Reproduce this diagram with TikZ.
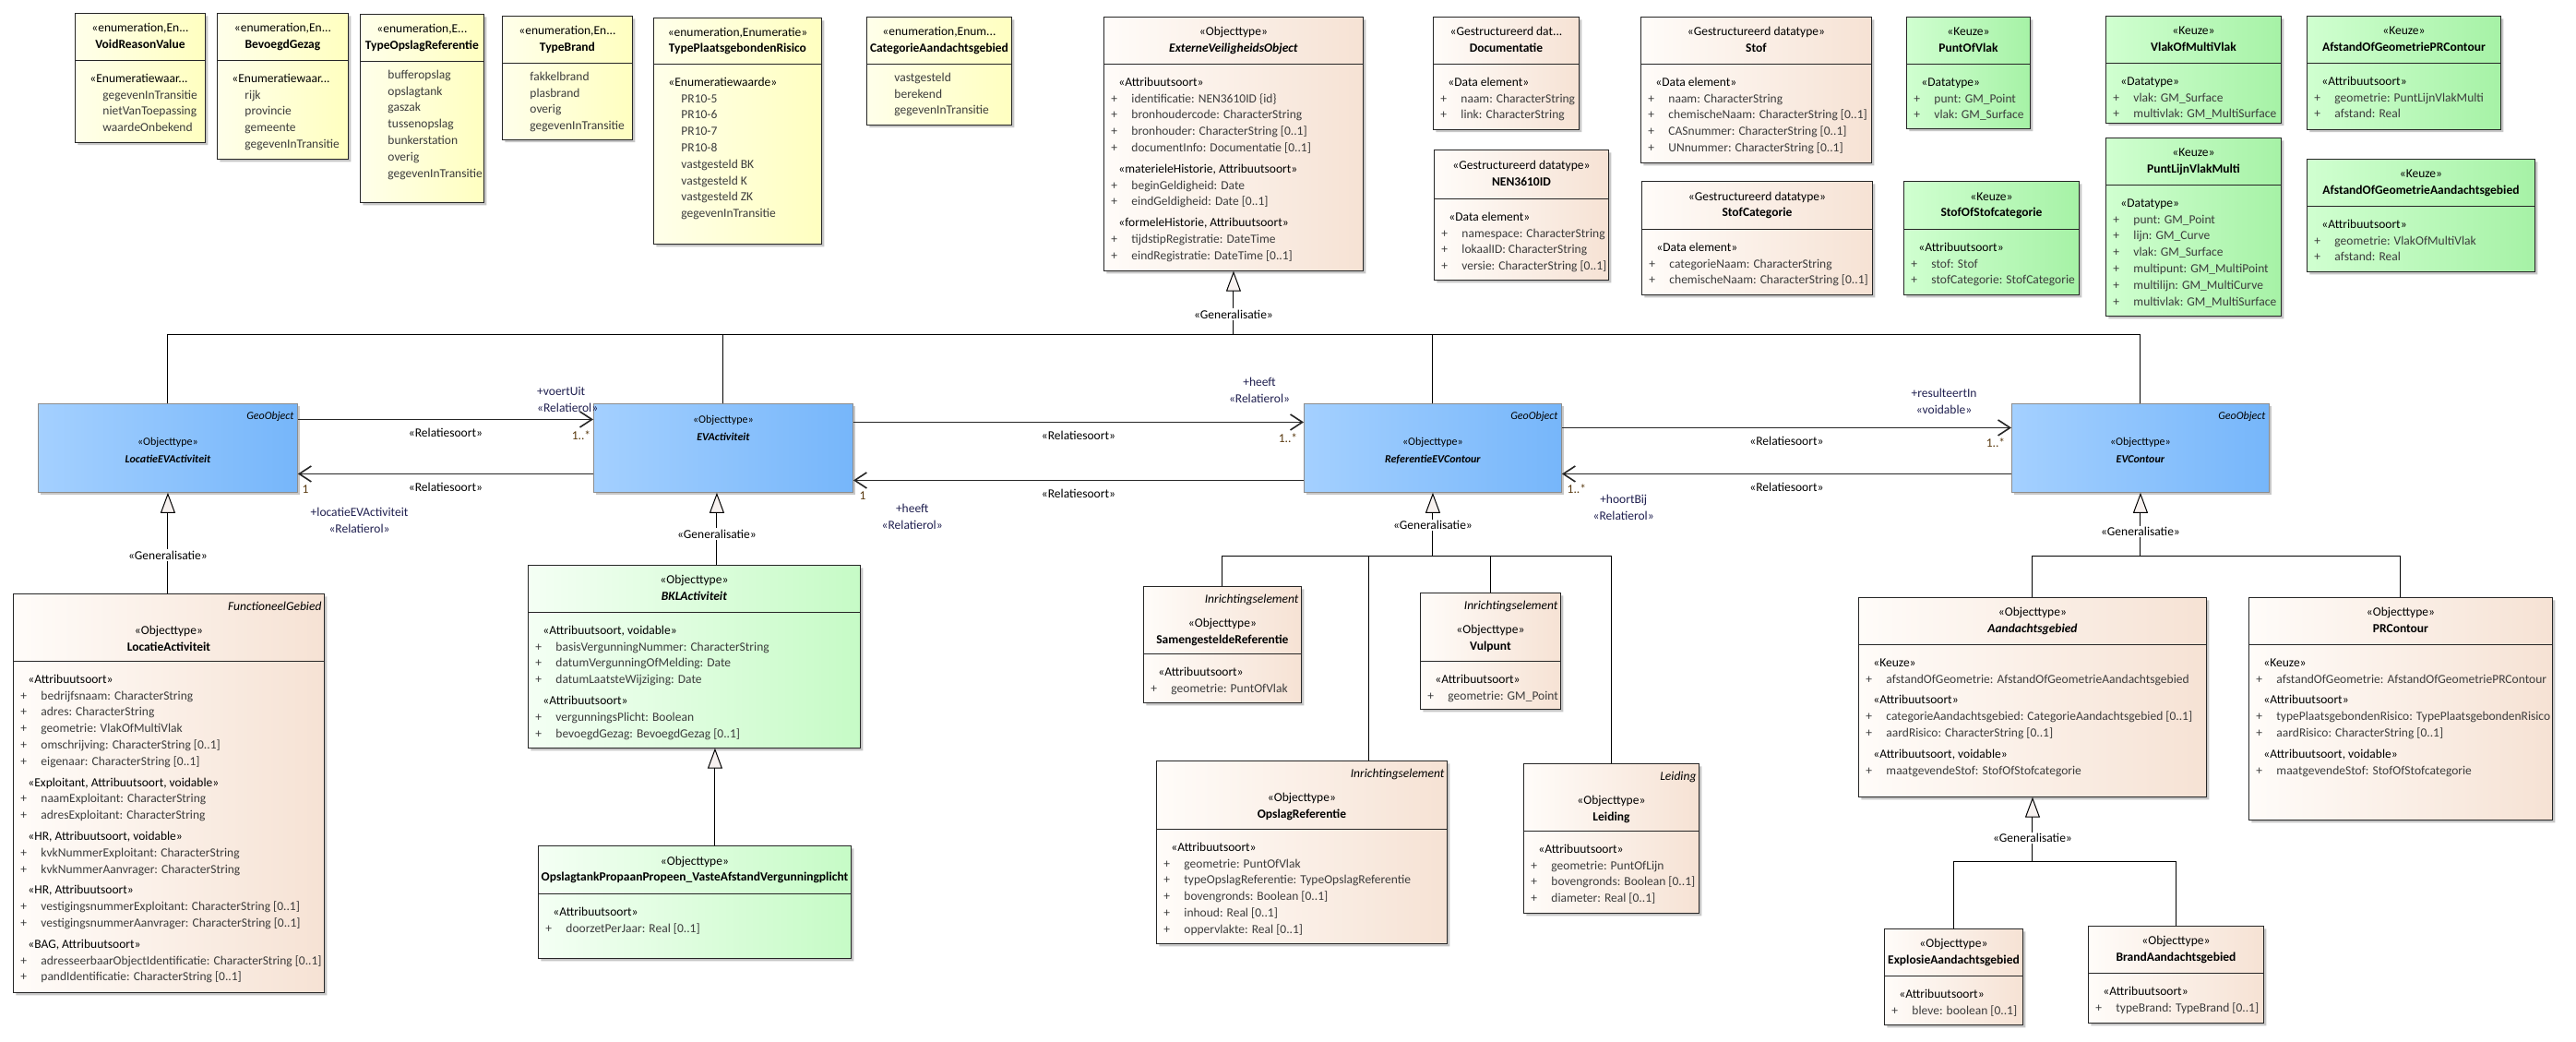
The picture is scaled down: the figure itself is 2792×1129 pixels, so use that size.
\documentclass[tikz,border=0pt]{standalone}
\usepackage{fontspec}
\setmainfont{Carlito}
\usepackage{xcolor}
\definecolor{enumLeft}{HTML}{FFFFEA}
\definecolor{enumRight}{HTML}{FFFFC0}
\definecolor{objLeft}{HTML}{FFFCF9}
\definecolor{objRight}{HTML}{F6E2D4}
\definecolor{keuzeLeft}{HTML}{D0FFD0}
\definecolor{keuzeRight}{HTML}{A6F2A6}
\definecolor{bklLeft}{HTML}{F4FFF4}
\definecolor{bklRight}{HTML}{C6FBC6}
\definecolor{geoLeft}{HTML}{A4D0FF}
\definecolor{geoRight}{HTML}{76B6FA}
\definecolor{genFill}{HTML}{F7F1EF}
\definecolor{attText}{HTML}{3C3C3C}
\definecolor{roleText}{HTML}{202050}
\definecolor{multText}{HTML}{5A3A10}
\usepackage{tikz}
\usetikzlibrary{arrows.meta,shapes.multipart,shadows}

\newcommand{\boxfont}{\fontsize{13.5}{17.8}\selectfont}
\newcommand{\geofont}{\fontsize{12}{18.5}\selectfont}
% header, body and lines of a class box
\newcommand{\umlhead}[4]{\parbox[c][#2][c]{#1}{\boxfont\centering\strut\mbox{#3}\\\mbox{#4}\strut}}
\newcommand{\umlheadx}[5]{\parbox[c][#2][t]{#1}{\boxfont\vspace*{5pt}\raggedleft\strut\textit{#3}\hspace*{3pt}\par
    \vspace{8.5pt}\centering\strut\mbox{#4}\\\mbox{#5}\strut\par}}
\newcommand{\umlbody}[3]{\parbox[c][#2][t]{#1}{\boxfont\vspace*{6pt}#3}}
\newcommand{\umlgrp}[1]{\vspace{5pt}\mbox{\hspace*{16pt}\strut#1}\par}
\newcommand{\umlatt}[1]{\mbox{\color{attText}\hspace*{8pt}\makebox[22pt][l]{+}\strut#1}\par}
\newcommand{\umlval}[1]{\mbox{\color{attText}\hspace*{30pt}\strut#1}\par}
\newcommand{\umlgeo}[4]{\parbox[c][96pt][t]{#1}{\geofont\vspace*{4.5pt}\raggedleft\strut\textit{#2}\hspace*{4pt}\par
    \vspace{9.5pt}\centering\strut#3\\\textbf{\textit{#4}}\strut\par}}
\newcommand{\umlgeoplain}[3]{\parbox[c][96pt][t]{#1}{\geofont\vspace*{8.5pt}\centering\strut#2\\\textbf{\textit{#3}}\strut\par}}

\tikzset{%
  classBox/.style={%
    rectangle split,
    rectangle split parts=2,
    draw=black!85,
    line width=0.9pt,
    inner sep=0pt,
    anchor=north west,
    drop shadow={shadow xshift=3pt, shadow yshift=-3pt, fill=black!22, opacity=1}
  },
  enumBox/.style={classBox, left color=enumLeft, right color=enumRight},
  objBox/.style={classBox, left color=objLeft, right color=objRight},
  keuzeBox/.style={classBox, left color=keuzeLeft, right color=keuzeRight},
  bklBox/.style={classBox, left color=bklLeft, right color=bklRight},
  geoBox/.style={%
    rectangle,
    draw=black!45,
    line width=0.9pt,
    inner sep=0pt,
    anchor=north west,
    left color=geoLeft,
    right color=geoRight,
    drop shadow={shadow xshift=3pt, shadow yshift=-3pt, fill=black!22, opacity=1}
  },
  assocLine/.style={%
    -{Straight Barb[length=13pt,width=17pt]},
    line width=1.6pt,
    draw=black!85
  },
  genArrow/.style={%
    -{Triangle[length=22pt,width=16pt,fill=genFill]},
    line width=1pt
  },
  genLink/.style={line width=1pt},
  genLabel/.style={fill=white, inner sep=1.5pt, font=\boxfont},
  relLabel/.style={font=\boxfont, inner sep=1pt},
  roleLabel/.style={font=\fontsize{13.5}{18}\selectfont, text=roleText, align=center, inner sep=0pt},
  multLabel/.style={font=\boxfont, text=multText, inner sep=0pt}
}

\begin{document}
\begin{tikzpicture}[x=1pt, y=-1pt]
  \path[use as bounding box, fill=white] (0,0) rectangle (2792,1129);

  % Enumerations
  \node[enumBox] (voidReason) at (81,14) {\umlhead{141pt}{50pt}{«enumeration,En...}{\textbf{VoidReasonValue}}\nodepart{two}\umlbody{141pt}{88pt}{%
      \umlgrp{«Enumeratiewaar...}
      \umlval{gegevenInTransitie}
      \umlval{nietVanToepassing}
      \umlval{waardeOnbekend}}};
  \node[enumBox] (bevoegdGezag) at (235,14) {\umlhead{142pt}{50pt}{«enumeration,En...}{\textbf{BevoegdGezag}}\nodepart{two}\umlbody{142pt}{106pt}{%
      \umlgrp{«Enumeratiewaar...}
      \umlval{rijk}
      \umlval{provincie}
      \umlval{gemeente}
      \umlval{gegevenInTransitie}}};
  \node[enumBox] (typeOpslag) at (390,15) {\umlhead{134pt}{50pt}{«enumeration,E...}{\textbf{TypeOpslagReferentie}}\nodepart{two}\umlbody{134pt}{152pt}{%
      \umlval{bufferopslag}
      \umlval{opslagtank}
      \umlval{gaszak}
      \umlval{tussenopslag}
      \umlval{bunkerstation}
      \umlval{overig}
      \umlval{gegevenInTransitie}}};
  \node[enumBox] (typeBrand) at (544,17) {\umlhead{141pt}{50pt}{«enumeration,En...}{\textbf{TypeBrand}}\nodepart{two}\umlbody{141pt}{82pt}{%
      \umlval{fakkelbrand}
      \umlval{plasbrand}
      \umlval{overig}
      \umlval{gegevenInTransitie}}};
  \node[enumBox] (typePR) at (708,19) {\umlhead{182pt}{49pt}{«enumeration,Enumeratie»}{\textbf{TypePlaatsgebondenRisico}}\nodepart{two}\umlbody{182pt}{194pt}{%
      \umlgrp{«Enumeratiewaarde»}
      \umlval{PR10-5}
      \umlval{PR10-6}
      \umlval{PR10-7}
      \umlval{PR10-8}
      \umlval{vastgesteld BK}
      \umlval{vastgesteld K}
      \umlval{vastgesteld ZK}
      \umlval{gegevenInTransitie}}};
  \node[enumBox] (categorieAandacht) at (939,18) {\umlhead{157pt}{50pt}{«enumeration,Enum...}{\textbf{CategorieAandachtsgebied}}\nodepart{two}\umlbody{157pt}{65pt}{%
      \umlval{vastgesteld}
      \umlval{berekend}
      \umlval{gegevenInTransitie}}};

  % Supertype and data types
  \node[objBox] (evObject) at (1196,18) {\umlhead{281pt}{50pt}{«Objecttype»}{\textbf{\textit{ExterneVeiligheidsObject}}}\nodepart{two}\umlbody{281pt}{223pt}{%
      \umlgrp{«Attribuutsoort»}
      \umlatt{identificatie: NEN3610ID \{id\}}
      \umlatt{bronhoudercode: CharacterString}
      \umlatt{bronhouder: CharacterString [0..1]}
      \umlatt{documentInfo: Documentatie [0..1]}
      \umlgrp{«materieleHistorie, Attribuutsoort»}
      \umlatt{beginGeldigheid: Date}
      \umlatt{eindGeldigheid: Date [0..1]}
      \umlgrp{«formeleHistorie, Attribuutsoort»}
      \umlatt{tijdstipRegistratie: DateTime}
      \umlatt{eindRegistratie: DateTime [0..1]}}};
  \node[objBox] (documentatie) at (1553,18) {\umlhead{158pt}{50pt}{«Gestructureerd dat...}{\textbf{Documentatie}}\nodepart{two}\umlbody{158pt}{70pt}{%
      \umlgrp{«Data element»}
      \umlatt{naam: CharacterString}
      \umlatt{link: CharacterString}}};
  \node[objBox] (nen3610id) at (1554,162) {\umlhead{189pt}{52pt}{«Gestructureerd datatype»}{\textbf{NEN3610ID}}\nodepart{two}\umlbody{189pt}{87pt}{%
      \umlgrp{«Data element»}
      \umlatt{namespace: CharacterString}
      \umlatt{lokaalID: CharacterString}
      \umlatt{versie: CharacterString [0..1]}}};
  \node[objBox] (stof) at (1778,18) {\umlhead{250pt}{50pt}{«Gestructureerd datatype»}{\textbf{Stof}}\nodepart{two}\umlbody{250pt}{106pt}{%
      \umlgrp{«Data element»}
      \umlatt{naam: CharacterString}
      \umlatt{chemischeNaam: CharacterString [0..1]}
      \umlatt{CASnummer: CharacterString [0..1]}
      \umlatt{UNnummer: CharacterString [0..1]}}};
  \node[objBox] (stofCategorie) at (1779,196) {\umlhead{250pt}{51pt}{«Gestructureerd datatype»}{\textbf{StofCategorie}}\nodepart{two}\umlbody{250pt}{70pt}{%
      \umlgrp{«Data element»}
      \umlatt{categorieNaam: CharacterString}
      \umlatt{chemischeNaam: CharacterString [0..1]}}};

  % Keuze types
  \node[keuzeBox] (puntOfVlak) at (2066,18) {\umlhead{134pt}{50pt}{«Keuze»}{\textbf{PuntOfVlak}}\nodepart{two}\umlbody{134pt}{69pt}{%
      \umlgrp{«Datatype»}
      \umlatt{punt: GM\_Point}
      \umlatt{vlak: GM\_Surface}}};
  \node[keuzeBox] (vlakOfMultiVlak) at (2282,17) {\umlhead{190pt}{50pt}{«Keuze»}{\textbf{VlakOfMultiVlak}}\nodepart{two}\umlbody{190pt}{64pt}{%
      \umlgrp{«Datatype»}
      \umlatt{vlak: GM\_Surface}
      \umlatt{multivlak: GM\_MultiSurface}}};
  \node[keuzeBox] (afstandPR) at (2500,17) {\umlhead{210pt}{50pt}{«Keuze»}{\textbf{AfstandOfGeometriePRContour}}\nodepart{two}\umlbody{210pt}{71pt}{%
      \umlgrp{«Attribuutsoort»}
      \umlatt{geometrie: PuntLijnVlakMulti}
      \umlatt{afstand: Real}}};
  \node[keuzeBox] (stofOfStofcat) at (2063,196) {\umlhead{190pt}{51pt}{«Keuze»}{\textbf{StofOfStofcategorie}}\nodepart{two}\umlbody{190pt}{70pt}{%
      \umlgrp{«Attribuutsoort»}
      \umlatt{stof: Stof}
      \umlatt{stofCategorie: StofCategorie}}};
  \node[keuzeBox] (puntLijnVlakMulti) at (2282,149) {\umlhead{190pt}{50pt}{«Keuze»}{\textbf{PuntLijnVlakMulti}}\nodepart{two}\umlbody{190pt}{141pt}{%
      \umlgrp{«Datatype»}
      \umlatt{punt: GM\_Point}
      \umlatt{lijn: GM\_Curve}
      \umlatt{vlak: GM\_Surface}
      \umlatt{multipunt: GM\_MultiPoint}
      \umlatt{multilijn: GM\_MultiCurve}
      \umlatt{multivlak: GM\_MultiSurface}}};
  \node[keuzeBox] (afstandAandacht) at (2500,172) {\umlhead{247pt}{50pt}{«Keuze»}{\textbf{AfstandOfGeometrieAandachtsgebied}}\nodepart{two}\umlbody{247pt}{70pt}{%
      \umlgrp{«Attribuutsoort»}
      \umlatt{geometrie: VlakOfMultiVlak}
      \umlatt{afstand: Real}}};

  % GeoObject row
  \node[geoBox] (locatieEV) at (41,437) {\umlgeo{281pt}{GeoObject}{«Objecttype»}{LocatieEVActiviteit}};
  \node[geoBox] (evAct) at (643,437) {\umlgeoplain{281pt}{«Objecttype»}{EVActiviteit}};
  \node[geoBox] (refEV) at (1413,437) {\umlgeo{279pt}{GeoObject}{«Objecttype»}{ReferentieEVContour}};
  \node[geoBox] (evContour) at (2180,437) {\umlgeo{279pt}{GeoObject}{«Objecttype»}{EVContour}};

  % Subtypes
  \node[objBox] (locatieAct) at (14,643) {\umlheadx{337pt}{72pt}{FunctioneelGebied}{«Objecttype»}{\textbf{LocatieActiviteit}}\nodepart{two}\umlbody{337pt}{358pt}{%
      \umlgrp{«Attribuutsoort»}
      \umlatt{bedrijfsnaam: CharacterString}
      \umlatt{adres: CharacterString}
      \umlatt{geometrie: VlakOfMultiVlak}
      \umlatt{omschrijving: CharacterString [0..1]}
      \umlatt{eigenaar: CharacterString [0..1]}
      \umlgrp{«Exploitant, Attribuutsoort, voidable»}
      \umlatt{naamExploitant: CharacterString}
      \umlatt{adresExploitant: CharacterString}
      \umlgrp{«HR, Attribuutsoort, voidable»}
      \umlatt{kvkNummerExploitant: CharacterString}
      \umlatt{kvkNummerAanvrager: CharacterString}
      \umlgrp{«HR, Attribuutsoort»}
      \umlatt{vestigingsnummerExploitant: CharacterString [0..1]}
      \umlatt{vestigingsnummerAanvrager: CharacterString [0..1]}
      \umlgrp{«BAG, Attribuutsoort»}
      \umlatt{adresseerbaarObjectIdentificatie: CharacterString [0..1]}
      \umlatt{pandIdentificatie: CharacterString [0..1]}}};
  \node[bklBox] (bkl) at (572,612) {\umlhead{360pt}{50pt}{«Objecttype»}{\textbf{\textit{BKLActiviteit}}}\nodepart{two}\umlbody{360pt}{146pt}{%
      \umlgrp{«Attribuutsoort, voidable»}
      \umlatt{basisVergunningNummer: CharacterString}
      \umlatt{datumVergunningOfMelding: Date}
      \umlatt{datumLaatsteWijziging: Date}
      \umlgrp{«Attribuutsoort»}
      \umlatt{vergunningsPlicht: Boolean}
      \umlatt{bevoegdGezag: BevoegdGezag [0..1]}}};
  \node[bklBox] (opslagtank) at (583,916) {\umlhead{339pt}{51pt}{«Objecttype»}{\textbf{OpslagtankPropaanPropeen\_VasteAfstandVergunningplicht}}\nodepart{two}\umlbody{339pt}{69pt}{%
      \umlgrp{«Attribuutsoort»}
      \umlatt{doorzetPerJaar: Real [0..1]}}};
  \node[objBox] (samengesteld) at (1239,635) {\umlheadx{171pt}{72pt}{Inrichtingselement}{«Objecttype»}{\textbf{SamengesteldeReferentie}}\nodepart{two}\umlbody{171pt}{52pt}{%
      \umlgrp{«Attribuutsoort»}
      \umlatt{geometrie: PuntOfVlak}}};
  \node[objBox] (vulpunt) at (1539,642) {\umlheadx{152pt}{73pt}{Inrichtingselement}{«Objecttype»}{\textbf{Vulpunt}}\nodepart{two}\umlbody{152pt}{51pt}{%
      \umlgrp{«Attribuutsoort»}
      \umlatt{geometrie: GM\_Point}}};
  \node[objBox] (opslagRef) at (1253,824) {\umlheadx{315pt}{73pt}{Inrichtingselement}{«Objecttype»}{\textbf{OpslagReferentie}}\nodepart{two}\umlbody{315pt}{123pt}{%
      \umlgrp{«Attribuutsoort»}
      \umlatt{geometrie: PuntOfVlak}
      \umlatt{typeOpslagReferentie: TypeOpslagReferentie}
      \umlatt{bovengronds: Boolean [0..1]}
      \umlatt{inhoud: Real [0..1]}
      \umlatt{oppervlakte: Real [0..1]}}};
  \node[objBox] (leiding) at (1651,827) {\umlheadx{190pt}{72pt}{Leiding}{«Objecttype»}{\textbf{Leiding}}\nodepart{two}\umlbody{190pt}{88pt}{%
      \umlgrp{«Attribuutsoort»}
      \umlatt{geometrie: PuntOfLijn}
      \umlatt{bovengronds: Boolean [0..1]}
      \umlatt{diameter: Real [0..1]}}};
  \node[objBox] (aandacht) at (2014,647) {\umlhead{377pt}{50pt}{«Objecttype»}{\textbf{\textit{Aandachtsgebied}}}\nodepart{two}\umlbody{377pt}{164pt}{%
      \umlgrp{«Keuze»}
      \umlatt{afstandOfGeometrie: AfstandOfGeometrieAandachtsgebied}
      \umlgrp{«Attribuutsoort»}
      \umlatt{categorieAandachtsgebied: CategorieAandachtsgebied [0..1]}
      \umlatt{aardRisico: CharacterString [0..1]}
      \umlgrp{«Attribuutsoort, voidable»}
      \umlatt{maatgevendeStof: StofOfStofcategorie}}};
  \node[objBox] (prContour) at (2437,647) {\umlhead{329pt}{50pt}{«Objecttype»}{\textbf{PRContour}}\nodepart{two}\umlbody{329pt}{189pt}{%
      \umlgrp{«Keuze»}
      \umlatt{afstandOfGeometrie: AfstandOfGeometriePRContour}
      \umlgrp{«Attribuutsoort»}
      \umlatt{typePlaatsgebondenRisico: TypePlaatsgebondenRisico}
      \umlatt{aardRisico: CharacterString [0..1]}
      \umlgrp{«Attribuutsoort, voidable»}
      \umlatt{maatgevendeStof: StofOfStofcategorie}}};
  \node[objBox] (explosie) at (2042,1006) {\umlhead{150pt}{50pt}{«Objecttype»}{\textbf{ExplosieAandachtsgebied}}\nodepart{two}\umlbody{150pt}{52pt}{%
      \umlgrp{«Attribuutsoort»}
      \umlatt{bleve: boolean [0..1]}}};
  \node[objBox] (brand) at (2263,1003) {\umlhead{190pt}{50pt}{«Objecttype»}{\textbf{BrandAandachtsgebied}}\nodepart{two}\umlbody{190pt}{53pt}{%
      \umlgrp{«Attribuutsoort»}
      \umlatt{typeBrand: TypeBrand [0..1]}}};

  % Generalisation trees
  \coordinate (evoBus) at ([yshift=-69pt]evObject.south);
  \coordinate (refBus) at ([yshift=-69pt]refEV.south);
  \coordinate (contourBus) at ([yshift=-69pt]evContour.south);
  \coordinate (aandachtBus) at ([yshift=-70pt]aandacht.south);

  \draw[genLink] (locatieEV.north) |- (evoBus);
  \draw[genLink] (evAct.north) |- (evoBus);
  \draw[genLink] (refEV.north) |- (evoBus);
  \draw[genLink] (evContour.north) |- (evoBus);
  \draw[genArrow] (evoBus) -- (evObject.south) node[genLabel, pos=0.32] {«Generalisatie»};

  \draw[genArrow] (locatieEV.south |- locatieAct.north) -- (locatieEV.south) node[genLabel, pos=0.38] {«Generalisatie»};
  \draw[genArrow] ([xshift=-7pt]evAct.south |- bkl.north) -- ([xshift=-7pt]evAct.south) node[genLabel, pos=0.43] {«Generalisatie»};
  \draw[genArrow] ([xshift=22pt]opslagtank.north) -- ([xshift=22pt]opslagtank.north |- bkl.south);

  \draw[genLink] (samengesteld.north) |- (refBus);
  \draw[genLink] ([xshift=72.5pt]opslagRef.north) |- (refBus);
  \draw[genLink] (vulpunt.north) |- (refBus);
  \draw[genLink] (leiding.north) |- (refBus);
  \draw[genArrow] (refBus) -- (refEV.south) node[genLabel, pos=0.49] {«Generalisatie»};

  \draw[genLink] (aandacht.north) |- (contourBus);
  \draw[genLink] (prContour.north) |- (contourBus);
  \draw[genArrow] (contourBus) -- (evContour.south) node[genLabel, pos=0.39] {«Generalisatie»};

  \draw[genLink] (explosie.north) |- (aandachtBus);
  \draw[genLink] (brand.north) |- (aandachtBus);
  \draw[genArrow] (aandachtBus) -- (aandacht.south) node[genLabel, pos=0.37] {«Generalisatie»};

  % Relaties
  \draw[assocLine] ([yshift=31pt]locatieEV.east) -- ([yshift=31pt]evAct.west)
    node[relLabel, midway, below=8pt] {«Relatiesoort»}
    node[multLabel, pos=1, anchor=north east, xshift=-2pt, yshift=-11.5pt] {1..*}
    node[roleLabel, pos=1, anchor=south east, xshift=6pt, yshift=7.5pt, align=left] {+voertUit\\«Relatierol»};
  \draw[assocLine] ([yshift=-28pt]evAct.west) -- ([yshift=-28pt]locatieEV.east)
    node[relLabel, midway, below=8pt] {«Relatiesoort»}
    node[multLabel, pos=1, anchor=north west, xshift=4pt, yshift=-11.5pt] {1}
    node[roleLabel, pos=1, anchor=north west, xshift=13pt, yshift=-35.5pt] {+locatieEVActiviteit\\«Relatierol»};
  \draw[assocLine] ([yshift=28pt]evAct.east) -- ([yshift=28pt]refEV.west)
    node[relLabel, midway, below=8pt] {«Relatiesoort»}
    node[multLabel, pos=1, anchor=north east, xshift=-6pt, yshift=-11.5pt] {1..*}
    node[roleLabel, pos=1, anchor=south, xshift=-48pt, yshift=20.5pt] {+heeft\\«Relatierol»};
  \draw[assocLine] ([yshift=-35pt]refEV.west) -- ([yshift=-35pt]evAct.east)
    node[relLabel, midway, below=8pt] {«Relatiesoort»}
    node[multLabel, pos=1, anchor=north west, xshift=6pt, yshift=-11.5pt] {1}
    node[roleLabel, pos=1, anchor=north west, xshift=30pt, yshift=-24.5pt] {+heeft\\«Relatierol»};
  \draw[assocLine] ([yshift=22pt]refEV.east) -- ([yshift=22pt]evContour.west)
    node[relLabel, midway, below=8pt] {«Relatiesoort»}
    node[multLabel, pos=1, anchor=north east, xshift=-6pt, yshift=-10.5pt] {1..*}
    node[roleLabel, pos=1, anchor=south, xshift=-73pt, yshift=14.5pt] {+resulteertIn\\«voidable»};
  \draw[assocLine] ([yshift=-28pt]evContour.west) -- ([yshift=-28pt]refEV.east)
    node[relLabel, midway, below=8pt] {«Relatiesoort»}
    node[multLabel, pos=1, anchor=north west, xshift=5pt, yshift=-10.5pt] {1..*}
    node[roleLabel, pos=1, anchor=north west, xshift=33pt, yshift=-21.5pt] {+hoortBij\\«Relatierol»};
\end{tikzpicture}
\end{document}
